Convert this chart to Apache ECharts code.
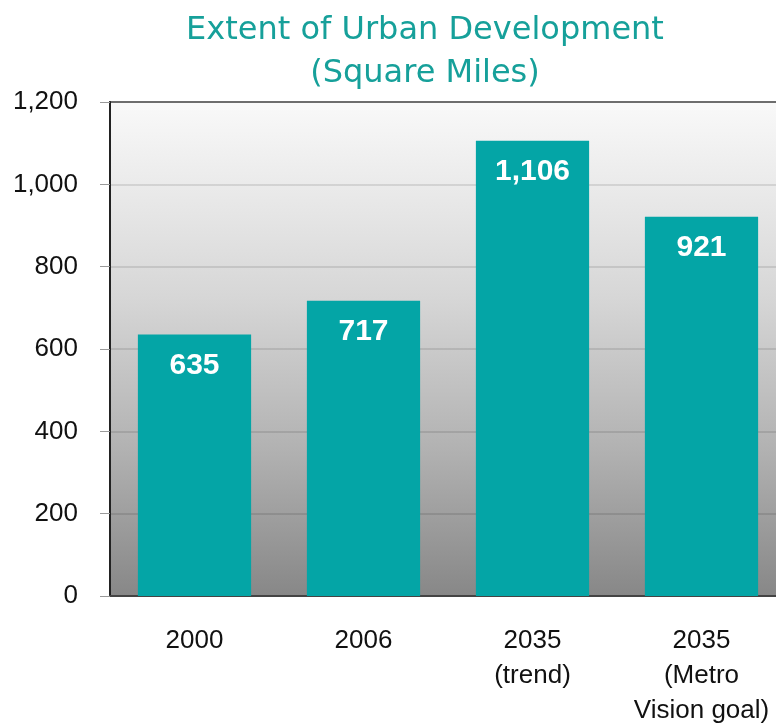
<!DOCTYPE html>
<html>
<head>
<meta charset="utf-8">
<script src="https://cdn.jsdelivr.net/npm/echarts@6/dist/echarts.min.js"></script>
<style>
  html, body { margin: 0; padding: 0; background: #fff; }
  #chart { width: 776px; height: 726px; }
</style>
</head>
<body>
<div id="chart"></div>
<script>
  // data
  var categories = ['2000', '2006', '2035\n(trend)', '2035\n(Metro\nVision goal)']
  var areaValues = [635, 717, 1106, 921]
  var yTicks = { min: 0, max: 1200, interval: 200 }

  var chart = echarts.init(document.getElementById('chart'))

  var option = {
    animation: false,
    title: {
      text: 'Extent of Urban Development\n(Square Miles)',
      left: 420,
      textAlign: 'center',
      top: 4,
      textStyle: {
        fontFamily: 'DejaVu Sans',
        fontWeight: 'normal',
        fontSize: 32,
        lineHeight: 43,
        color: '#16a09a'
      }
    },
    grid: {
      left: 110,
      right: -10,
      top: 102,
      bottom: 130,
      outerBoundsMode: 'none',
      containLabel: false,
      show: true,
      borderWidth: 2,
      borderColor: '#7a7a7a',
      backgroundColor: new echarts.graphic.LinearGradient(0, 0, 0, 1, [
        { offset: 0, color: '#f9f9f9' },
        { offset: 0.2, color: '#e8e8e8' },
        { offset: 0.4, color: '#d6d6d6' },
        { offset: 0.7, color: '#b2b2b2' },
        { offset: 1, color: '#878787' }
      ])
    },
    xAxis: {
      type: 'category',
      data: categories,
      axisLine: { lineStyle: { color: '#444', width: 2 } },
      axisTick: { length: 9, lineStyle: { color: '#999' } },
      axisLabel: {
        margin: 27,
        fontFamily: 'Liberation Sans',
        fontSize: 26,
        lineHeight: 35,
        color: '#111',
        interval: 0
      }
    },
    yAxis: {
      type: 'value',
      min: yTicks.min,
      max: yTicks.max,
      interval: yTicks.interval,
      axisLine: { show: true, lineStyle: { color: '#222', width: 2 } },
      axisTick: { show: true, length: 10, lineStyle: { color: '#999' } },
      splitLine: { lineStyle: { color: 'rgba(0,0,0,0.1)', width: 2 } },
      axisLabel: {
        margin: 32,
        fontFamily: 'Liberation Sans',
        fontSize: 26,
        color: '#111',
        formatter: function (v) { return v.toLocaleString('en-US') }
      }
    },
    series: [
      {
        type: 'bar',
        data: areaValues,
        barWidth: '67%',
        itemStyle: { color: '#04a5a6' },
        label: {
          show: true,
          position: 'insideTop',
          distance: 16,
          fontFamily: 'Liberation Sans',
          fontWeight: 'bold',
          fontSize: 30,
          color: '#fff',
          formatter: function (p) { return p.value.toLocaleString('en-US') }
        }
      }
    ]
  }

  chart.setOption(option)
</script>
</body>
</html>
